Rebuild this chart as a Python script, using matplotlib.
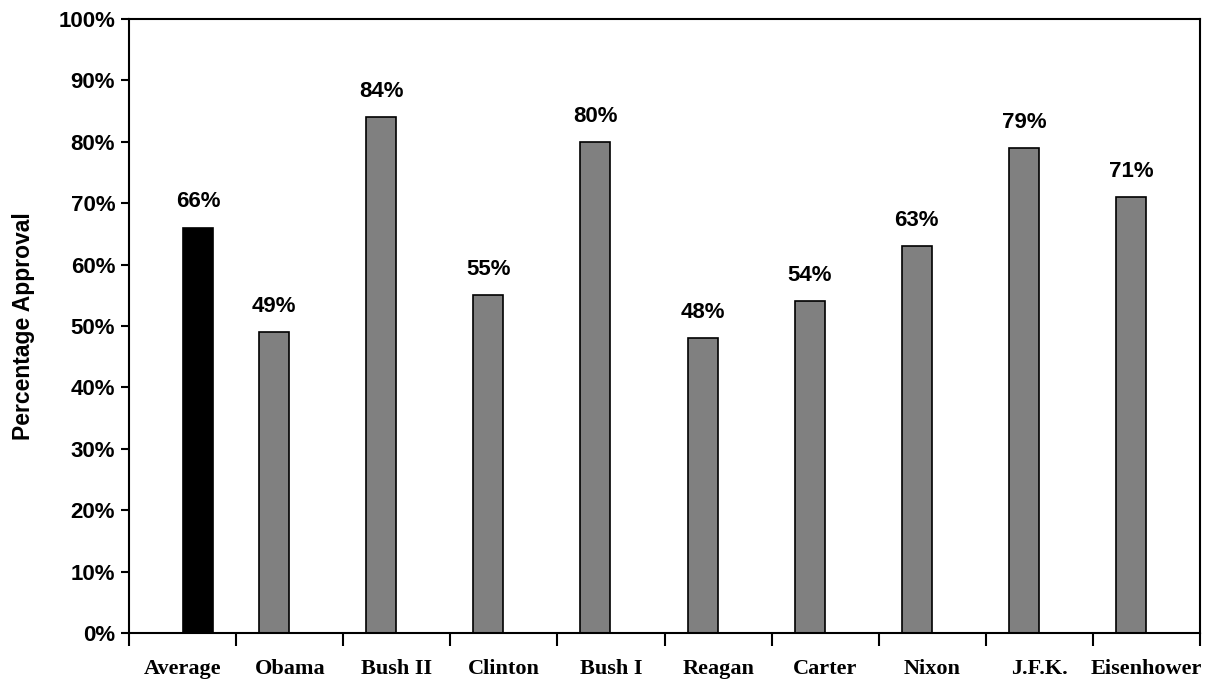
import matplotlib
matplotlib.use("Agg")
import matplotlib.pyplot as plt
import numpy as np

# categories and values (percent approval)
names = ["Average", "Obama", "Bush II", "Clinton", "Bush I",
         "Reagan", "Carter", "Nixon", "J.F.K.", "Eisenhower"]
presidents = [np.nan, 49, 84, 55, 80, 48, 54, 63, 79, 71]
average = [66, np.nan, np.nan, np.nan, np.nan, np.nan, np.nan, np.nan, np.nan, np.nan]
yticks = [0, 10, 20, 30, 40, 50, 60, 70, 80, 90, 100]

x = np.arange(len(names))
w = 0.28
off = 0.145

fig = plt.figure(figsize=(12.14, 6.83), dpi=100)
ax = fig.add_axes([0.1063, 0.0732, 0.8822, 0.899])

b1 = ax.bar(x - off, presidents, w, color="#808080", edgecolor="black", linewidth=1.2)
b2 = ax.bar(x + off, average, w, color="black", edgecolor="black", linewidth=1.2)

sans = "Liberation Sans"
for bars, vals in ((b1, presidents), (b2, average)):
    for r, v in zip(bars, vals):
        if np.isnan(v):
            continue
        ax.annotate("%d%%" % v, (r.get_x() + r.get_width() / 2, v),
                    xytext=(0, 11), textcoords="offset points",
                    ha="center", va="bottom", fontsize=16,
                    fontweight="bold", family=sans)

ax.set_xlim(-0.5, len(names) - 0.5)
ax.set_ylim(0, 100)
ax.set_yticks(yticks)
ax.set_yticklabels(["%d%%" % t for t in yticks], fontsize=16,
                   fontweight="bold", family=sans)
ax.tick_params(axis="y", direction="out", length=6, width=1.5, pad=4)

# labels at centers, tick marks between categories
ax.set_xticks(x)
ax.set_xticklabels(names, fontsize=16, fontweight="bold", family="Liberation Serif")
ax.tick_params(axis="x", which="major", length=0, pad=19)
ax.set_xticks(np.arange(len(names) + 1) - 0.5, minor=True)
ax.tick_params(axis="x", which="minor", direction="out", length=9, width=1.5)

ax.set_ylabel("Percentage Approval", fontsize=16.5, fontweight="bold", family=sans, labelpad=17)

for s in ax.spines.values():
    s.set_linewidth(1.5)

fig.savefig("out.png", dpi=100)
